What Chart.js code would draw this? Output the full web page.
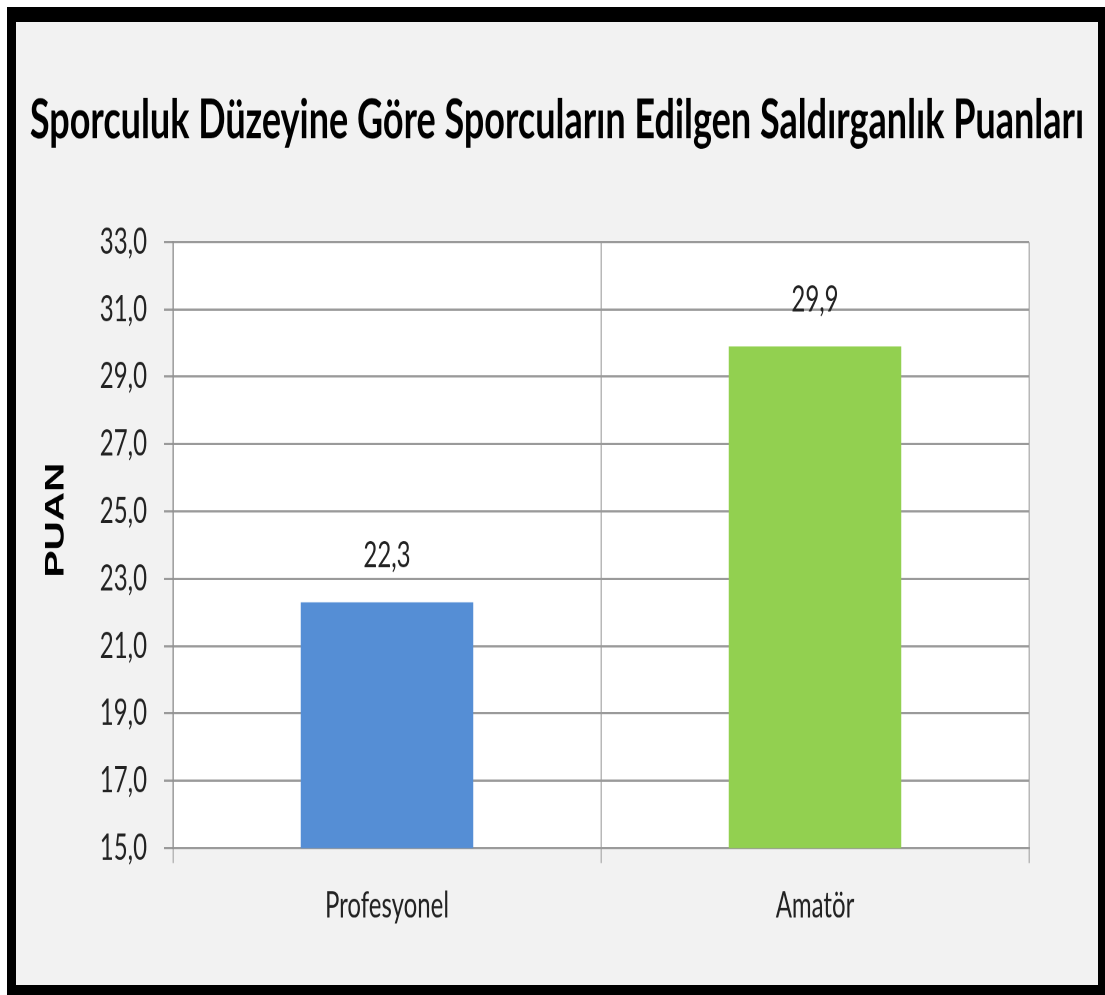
<!DOCTYPE html>
<html>
<head>
<meta charset="utf-8">
<script src="https://cdn.jsdelivr.net/npm/chart.js@4"></script>
<style>
  html, body { margin: 0; padding: 0; background: #ffffff; width: 1105px; height: 995px; overflow: hidden; }
  #frame { position: absolute; left: 7px; top: 7px; width: 1098px; height: 988px; background: #000; }
  #panel { position: absolute; left: 16px; top: 22px; width: 1082px; height: 963px; background: #f2f2f2; overflow: hidden; }
  #wrap { position: absolute; left: 0; top: 0; width: 1082px; height: 642px; transform: scaleY(1.5); transform-origin: 0 0; }
</style>
</head>
<body>
<div id="frame"></div>
<div id="panel"><div id="wrap"><canvas id="c"></canvas></div></div>
<script>
const chartTitle = 'Sporculuk Düzeyine Göre Sporcuların Edilgen Saldırganlık Puanları';
const yAxisTitle = 'PUAN';
const categories = ['Profesyonel', 'Amatör'];
const values = [22.3, 29.9];
const valueLabels = ['22,3', '29,9'];
const barColors = ['#558ed5', '#92d050'];
const yTickLabels = ['15,0', '17,0', '19,0', '21,0', '23,0', '25,0', '27,0', '29,0', '31,0', '33,0'];
const yMin = 15, yMax = 33, yStep = 2;

const plotBg = {
  id: 'plotBg',
  beforeDraw(chart) {
    const {ctx, chartArea: a} = chart;
    ctx.save();
    ctx.fillStyle = '#ffffff';
    ctx.fillRect(a.left, a.top, a.right - a.left, a.bottom - a.top);
    ctx.restore();
  }
};
const valueLabelPlugin = {
  id: 'valueLabels',
  afterDatasetsDraw(chart) {
    const {ctx} = chart;
    const meta = chart.getDatasetMeta(0);
    ctx.save();
    ctx.font = '24px Lato';
    ctx.fillStyle = '#222222';
    ctx.textAlign = 'center';
    ctx.textBaseline = 'middle';
    meta.data.forEach((el, i) => {
      ctx.fillText(valueLabels[i], el.x, el.y - 31);
    });
    ctx.restore();
  }
};
const yTitlePlugin = {
  id: 'yTitle',
  afterDraw(chart) {
    const {ctx, chartArea: a} = chart;
    const s = chart.scales.y;
    ctx.save();
    ctx.translate(s.left + 40, (a.top + a.bottom) / 2 - 16.7);
    ctx.rotate(-Math.PI / 2);
    ctx.font = 'bold 27px "Liberation Sans"';
    ctx.fillStyle = '#000000';
    ctx.textAlign = 'center';
    ctx.textBaseline = 'middle';
    ctx.fillText(yAxisTitle, 0, 0);
    ctx.restore();
  }
};

new Chart(document.getElementById('c'), {
  type: 'bar',
  data: {
    labels: categories,
    datasets: [{
      data: values,
      backgroundColor: barColors,
      borderWidth: 0,
      categoryPercentage: 1.0,
      barPercentage: 0.403
    }]
  },
  options: {
    responsive: true,
    maintainAspectRatio: false,
    devicePixelRatio: 2,
    animation: false,
    events: [],
    layout: { padding: 0 },
    plugins: {
      legend: { display: false },
      tooltip: { enabled: false },
      title: {
        display: true,
        text: chartTitle,
        color: '#000000',
        font: { family: 'Lato', size: 36, weight: 'bold', lineHeight: 1.2 },
        padding: { top: 44.4, bottom: 59.1 }
      }
    },
    scales: {
      x: {
        afterFit: s => { s.height = 91.3; },
        grid: { display: true, offset: true, color: '#b8b8b8', lineWidth: 1.5, tickLength: 10, drawTicks: true },
        border: { display: true, color: '#9a9a9a', width: 1.5 },
        ticks: { color: '#222222', padding: 14, font: { family: 'Lato', size: 24 } }
      },
      y: {
        min: yMin, max: yMax,
        afterFit: s => { s.width = 157; },
        grid: { color: '#9a9a9a', lineWidth: 1.5, tickLength: 9 },
        border: { display: true, color: '#8c8c8c', width: 1 },
        ticks: {
          stepSize: yStep,
          padding: 17,
          color: '#222222',
          font: { family: 'Lato', size: 24 },
          callback: (v, i) => yTickLabels[i]
        }
      },
      yR: {
        position: 'right',
        min: yMin, max: yMax,
        afterFit: s => { s.width = 69; },
        grid: { display: false },
        border: { display: false },
        ticks: { display: false }
      }
    }
  },
  plugins: [plotBg, valueLabelPlugin, yTitlePlugin]
});
</script>
</body>
</html>
